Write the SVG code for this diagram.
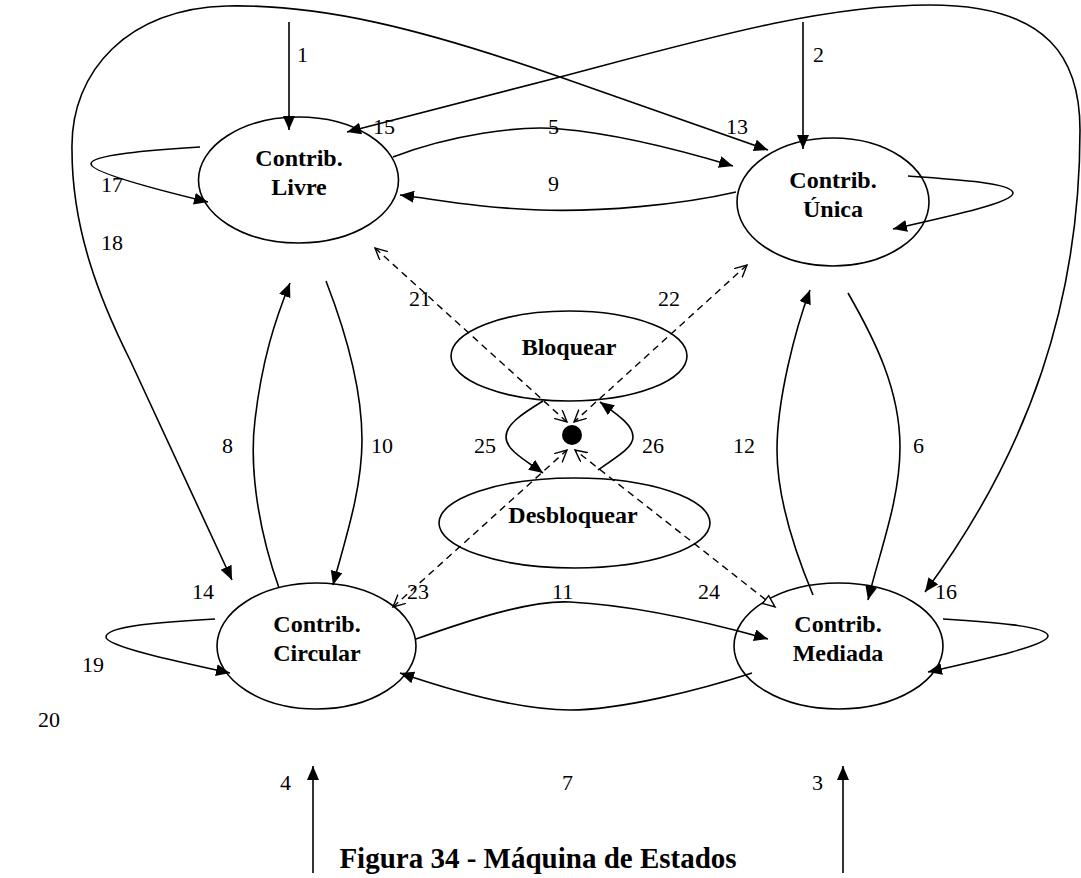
<svg xmlns="http://www.w3.org/2000/svg" width="1081" height="878" viewBox="0 0 1081 878">
<style>
.st{fill:none;stroke:#000;stroke-width:1.6}
.tx{font-family:"Liberation Serif","Times New Roman",serif;font-size:24px;font-weight:bold;text-anchor:middle;fill:#000}
.lb{font-family:"Liberation Serif","Times New Roman",serif;font-size:22px;fill:#000}
.c{fill:none;stroke:#000;stroke-width:1.6}
.arr{marker-end:url(#fa)}
.dsh{fill:none;stroke:#000;stroke-width:1.4;stroke-dasharray:7 5}
</style>
<defs>
<marker id="fa" markerUnits="userSpaceOnUse" markerWidth="16" markerHeight="14" refX="14" refY="6" orient="auto-start-reverse"><path d="M0,0 L14,6 L0,12 z" fill="#000"/></marker>
<marker id="va" markerUnits="userSpaceOnUse" markerWidth="14" markerHeight="14" refX="12" refY="6" orient="auto-start-reverse"><path d="M0,0 L12,6 L0,12" fill="none" stroke="#000" stroke-width="1.4"/></marker>
<marker id="ha" markerUnits="userSpaceOnUse" markerWidth="16" markerHeight="14" refX="13" refY="6" orient="auto-start-reverse"><path d="M1,1 L13,6 L1,11 z" fill="#fff" stroke="#000" stroke-width="1.4"/></marker>
</defs>
<rect width="1081" height="878" fill="#fff"/>

<g id="livre"><ellipse class="st" cx="298.5" cy="180" rx="100" ry="63"/><text class="tx" x="299" y="166">Contrib.</text><text class="tx" x="299" y="195">Livre</text></g>
<g id="unica"><ellipse class="st" cx="833" cy="202" rx="96" ry="64"/><text class="tx" x="833" y="188">Contrib.</text><text class="tx" x="833" y="217">Única</text></g>
<g id="bloquear"><ellipse class="st" cx="569" cy="356" rx="118" ry="45"/><text class="tx" x="569" y="355">Bloquear</text></g>
<g id="desbloquear"><ellipse class="st" cx="574.5" cy="523" rx="135.5" ry="45"/><text class="tx" x="573" y="523">Desbloquear</text></g>
<g id="ponto"><circle cx="572" cy="435" r="10" fill="#000"/></g>
<g id="circular"><ellipse class="st" cx="316.5" cy="646" rx="99.5" ry="63"/><text class="tx" x="317" y="632">Contrib.</text><text class="tx" x="317" y="661">Circular</text></g>
<g id="mediada"><ellipse class="st" cx="838.5" cy="646" rx="104.5" ry="63"/><text class="tx" x="838" y="632">Contrib.</text><text class="tx" x="838" y="661">Mediada</text></g>

<g id="connectors">
<path class="c arr" d="M289,22 L289,130"/>
<path class="c arr" d="M803,22 L803,149"/>
<path class="c arr" d="M843,873 L843,766"/>
<path class="c arr" d="M313,873 L313,766"/>
<path class="c arr" d="M768,150 L560,77 C420,28 320,4 227,6 C130,8 70,70 72,150 C72,230 100,300 130,360 L232,580" marker-start="url(#fa)"/>
<path class="c arr" d="M347,132 L560,77 C700,40 820,5 930,5 C1050,5 1080,60 1080,130 C1080,300 1030,450 925,592" marker-start="url(#fa)"/>
<path class="c arr" d="M393,157 C450,135 520,125 560,129 C620,134 680,150 733,166"/>
<path class="c arr" d="M736,192 C680,205 600,212 540,210 C480,208 440,200 400,195"/>
<path class="c arr" d="M200,147 C150,150 90,155 91,164 C92,172 150,188 208,202"/>
<path class="c arr" d="M908,176 C960,180 1013,183 1013,193 C1013,202 960,214 893,229"/>
<path class="c arr" d="M215,619 C160,622 106,626 106,637 C106,646 170,660 230,673"/>
<path class="c arr" d="M943,619 C990,622 1048,626 1048,636 C1048,645 990,658 928,672"/>
<path class="c arr" d="M416,639 C470,620 530,600 570,602 C630,605 700,620 768,639"/>
<path class="c arr" d="M752,673 C700,690 620,710 570,710 C520,710 450,690 400,673"/>
<path class="c arr" d="M279,588 C255,520 250,460 255,420 C262,360 275,320 290,283"/>
<path class="c arr" d="M326,281 C345,330 362,390 362,440 C362,490 345,540 333,585"/>
<path class="c arr" d="M813,595 C790,540 777,490 777,450 C777,400 795,330 810,290"/>
<path class="c arr" d="M848,293 C875,340 900,390 900,447 C900,500 880,550 868,600"/>
<path class="c arr" d="M543,401 C520,415 506,425 506,437 C506,450 525,460 543,473"/>
<path class="c arr" d="M598,470 C620,455 633,447 633,437 C633,425 618,415 600,402"/>
<path class="dsh" d="M375,248 L567,422" marker-start="url(#va)" marker-end="url(#va)"/>
<path class="dsh" d="M747,265 L574,422" marker-start="url(#va)" marker-end="url(#va)"/>
<path class="dsh" d="M393,607 L567,450" marker-start="url(#va)" marker-end="url(#va)"/>
<path class="dsh" d="M775,607 L575,450" marker-start="url(#ha)" marker-end="url(#va)"/>
</g>

<g id="labels">
<text class="lb" x="297" y="62">1</text>
<text class="lb" x="813" y="62">2</text>
<text class="lb" x="373" y="134">15</text>
<text class="lb" x="548" y="134">5</text>
<text class="lb" x="726" y="134">13</text>
<text class="lb" x="101" y="192">17</text>
<text class="lb" x="548" y="191">9</text>
<text class="lb" x="101" y="250">18</text>
<text class="lb" x="409" y="306">21</text>
<text class="lb" x="658" y="306">22</text>
<text class="lb" x="222" y="453">8</text>
<text class="lb" x="371" y="453">10</text>
<text class="lb" x="474" y="453">25</text>
<text class="lb" x="642" y="453">26</text>
<text class="lb" x="733" y="453">12</text>
<text class="lb" x="913" y="453">6</text>
<text class="lb" x="192" y="599">14</text>
<text class="lb" x="407" y="599">23</text>
<text class="lb" x="552" y="599">11</text>
<text class="lb" x="698" y="599">24</text>
<text class="lb" x="935" y="599">16</text>
<text class="lb" x="82" y="672">19</text>
<text class="lb" x="38" y="727">20</text>
<text class="lb" x="280" y="790">4</text>
<text class="lb" x="562" y="790">7</text>
<text class="lb" x="812" y="790">3</text>
<text x="538" y="868" style="font-family:'Liberation Serif','Times New Roman',serif;font-size:29px;font-weight:bold;text-anchor:middle">Figura 34 - Máquina de Estados</text>
</g>
</svg>
